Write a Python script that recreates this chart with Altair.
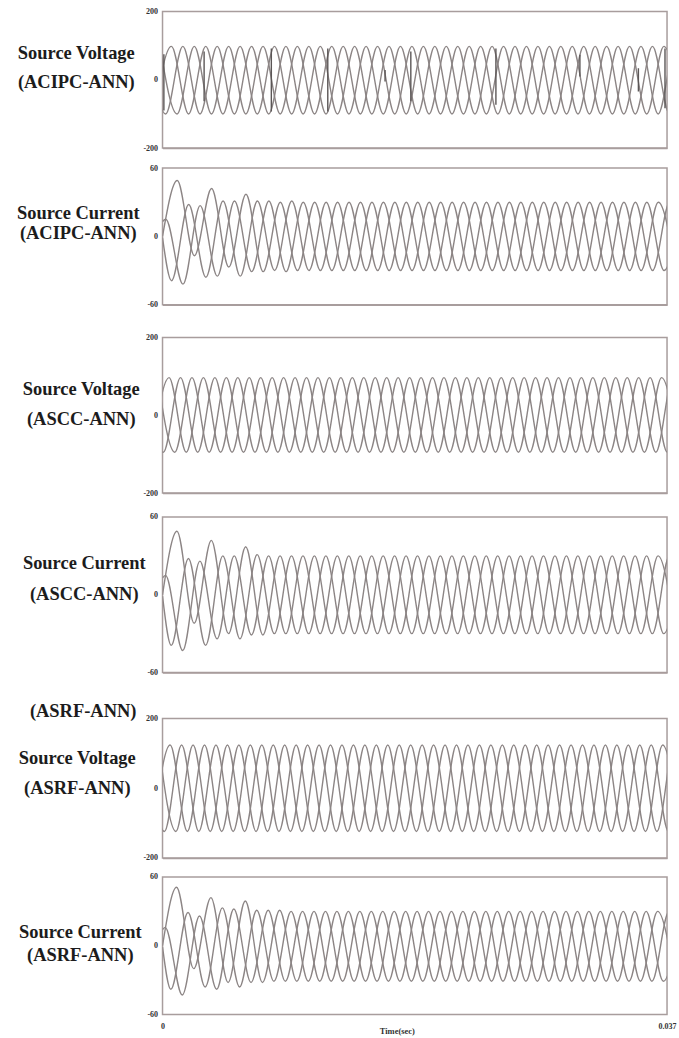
import altair as alt
import pandas as pd

# ---------------- texts ----------------
LABELS = [
    ["Source Voltage", "(ACIPC-ANN)"],
    ["Source Current", "(ACIPC-ANN)"],
    ["Source Voltage", "(ASCC-ANN)"],
    ["Source Current", "(ASCC-ANN)"],
    ["Source Voltage", "(ASRF-ANN)"],
    ["Source Current", "(ASRF-ANN)"],
]
EXTRA_LABEL = "(ASRF-ANN)"
Y_LIMITS = [200, 60, 200, 60, 200, 60]
X_TICKS = [0, 0.037]
X_TITLE = "Time(sec)"
T_END = 0.037

# ---------------- waveform data (extrema) ----------------
PERIOD = 0.00252          # one cycle of each phase
STEP = PERIOD / 3         # spacing of successive phase peaks

# Source voltage, ACIPC-ANN (peaks k=-2.., troughs m=-2..)
V1_T0 = 0.00065
V1_PEAKS = [98, 98, 98, 98, 98, 98, 98, 98, 98, 98, 98, 98,
            98, 98, 98, 98, 98, 98, 98, 98, 98, 98, 98, 98,
            98, 98, 98, 98, 98, 98, 98, 98, 98, 98, 98, 98,
            98, 98, 98, 98, 98, 98, 98, 98, 98, 98, 98, 98]
V1_TROUGHS = [-100, -100, -100, -100, -100, -100, -100, -100, -100, -100, -100, -100,
              -100, -100, -100, -100, -100, -100, -100, -100, -100, -100, -100, -100,
              -100, -100, -100, -100, -100, -100, -100, -100, -100, -100, -100, -100,
              -100, -100, -100, -100, -100, -100, -100, -100, -100, -100, -100, -100]
# dark vertical switching spikes in the ACIPC voltage trace
V1_SPIKE_T = [0.0001, 0.00305, 0.00798, 0.01212, 0.01632, 0.01821, 0.02445, 0.03061, 0.0349, 0.03685]
V1_SPIKE_LO = [-90, -63, -93, -93, -5, -63, -73, 10, -34, -83]
V1_SPIKE_HI = [75, 83, 92, 92, 29, 83, 92, 73, 34, 92]

# Source current, ACIPC-ANN (peaks k=0.., troughs m=0.., start values at t=0)
I2_T0 = 0.00024
I2_START = [13, 0, -1]
I2_PEAKS = [15, 49, 28, 27, 42, 31, 31, 37, 31, 31, 30, 31,
            30, 30, 30, 30, 30, 30, 30, 30, 30, 30, 30, 30,
            30, 30, 30, 30, 30, 30, 30, 30, 30, 30, 30, 30,
            30, 30, 30, 30, 30, 30, 30, 30, 30, 30]
I2_TROUGHS = [-39, -42, -17, -36, -35, -27, -35, -31, -31, -30, -31, -30,
              -30, -30, -30, -30, -30, -30, -30, -30, -30, -30, -30, -30,
              -30, -30, -30, -30, -30, -30, -30, -30, -30, -30, -30, -30,
              -30, -30, -30, -30, -30, -30, -30, -30, -30, -30]

# Source voltage, ASCC-ANN
V3_T0 = 0.00048
V3_PEAKS = [97, 97, 97, 97, 97, 97, 97, 97, 97, 97, 97, 97,
            97, 97, 97, 97, 97, 97, 97, 97, 97, 97, 97, 97,
            97, 97, 97, 97, 97, 97, 97, 97, 97, 97, 97, 97,
            97, 97, 97, 97, 97, 97, 97, 97, 97, 97, 97, 97]
V3_TROUGHS = [-95, -95, -95, -95, -95, -95, -95, -95, -95, -95, -95, -95,
              -95, -95, -95, -95, -95, -95, -95, -95, -95, -95, -95, -95,
              -95, -95, -95, -95, -95, -95, -95, -95, -95, -95, -95, -95,
              -95, -95, -95, -95, -95, -95, -95, -95, -95, -95, -95, -95]

# Source current, ASCC-ANN
I4_T0 = 0.00022
I4_START = [13, 0, -1]
I4_PEAKS = [15, 49, 28, 26, 42, 30, 30, 37, 31, 30, 30, 30,
            30, 30, 30, 30, 30, 30, 30, 30, 30, 30, 30, 30,
            30, 30, 30, 30, 30, 30, 30, 30, 30, 30, 30, 30,
            30, 30, 30, 30, 30, 30, 30, 30, 30, 30]
I4_TROUGHS = [-39, -43, -22, -39, -34, -30, -34, -31, -31, -30, -30, -30,
              -30, -30, -30, -30, -30, -30, -30, -30, -30, -30, -30, -30,
              -30, -30, -30, -30, -30, -30, -30, -30, -30, -30, -30, -30,
              -30, -30, -30, -30, -30, -30, -30, -30, -30, -30]

# Source voltage, ASRF-ANN
V5_T0 = 0.00056
V5_PEAKS = [124, 124, 124, 124, 124, 124, 124, 124, 124, 124, 124, 124,
            124, 124, 124, 124, 124, 124, 124, 124, 124, 124, 124, 124,
            124, 124, 124, 124, 124, 124, 124, 124, 124, 124, 124, 124,
            124, 124, 124, 124, 124, 124, 124, 124, 124, 124, 124, 124]
V5_TROUGHS = [-124, -124, -124, -124, -124, -124, -124, -124, -124, -124, -124, -124,
              -124, -124, -124, -124, -124, -124, -124, -124, -124, -124, -124, -124,
              -124, -124, -124, -124, -124, -124, -124, -124, -124, -124, -124, -124,
              -124, -124, -124, -124, -124, -124, -124, -124, -124, -124, -124, -124]

# Source current, ASRF-ANN
I6_T0 = 0.00019
I6_START = [14, 0, -1]
I6_PEAKS = [16, 51, 29, 26, 42, 33, 32, 39, 31, 31, 31, 30,
            30, 30, 30, 30, 30, 30, 30, 30, 30, 30, 30, 30,
            30, 30, 30, 30, 30, 30, 30, 30, 30, 30, 30, 30,
            30, 30, 30, 30, 30, 30, 30, 30, 30, 30]
I6_TROUGHS = [-38, -43, -20, -36, -38, -32, -36, -32, -32, -31, -31, -31,
              -31, -31, -31, -31, -31, -31, -31, -31, -31, -31, -31, -31,
              -31, -31, -31, -31, -31, -31, -31, -31, -31, -31, -31, -31,
              -31, -31, -31, -31, -31, -31, -31, -31, -31, -31]

# ---------------- style ----------------
SERIF = "Liberation Serif"
LINE = "#8c8585"
BORDER = "#a89d9d"
SPIKE = "#5b5656"
TEXT = "#1c1c1c"
PLOT_W = 506
LABEL_SIZE = 18.5


def wave_frame(t0, k0, peaks, m0, troughs, starts=None):
    rows = []
    for i, v in enumerate(peaks):
        k = k0 + i
        rows.append({"t": t0 + k * STEP, "v": v, "phase": k % 3})
    for i, v in enumerate(troughs):
        m = m0 + i
        rows.append({"t": t0 + (m + 0.5) * STEP, "v": v, "phase": (m - 1) % 3})
    if starts:
        for p, v in enumerate(starts):
            rows.append({"t": 0.0, "v": v, "phase": p})
    return pd.DataFrame(rows).sort_values("t")


def panel(df, idx, height, title_x, title_y, line_h, gap, last=False, spikes=None, title=None):
    ylim = Y_LIMITS[idx]
    if last:
        x_axis = alt.Axis(values=X_TICKS, format=".3~f", title=X_TITLE, grid=False,
                          ticks=False, domain=False, labelFlush=False, labelPadding=8,
                          labelFont=SERIF, labelFontSize=8, labelFontWeight="bold",
                          labelColor="#333333", titleFont=SERIF, titleFontSize=8.5,
                          titleFontWeight="bold", titleColor="#333333",
                          titleX=235, titleY=16, titleBaseline="middle", titleAlign="center")
    else:
        x_axis = alt.Axis(title=None, labels=False, ticks=False, grid=False, domain=True,
                          domainColor=BORDER, domainWidth=1.5,
                          minExtent=gap, maxExtent=gap)
    y_axis = alt.Axis(values=[-ylim, 0, ylim], labelExpr="'' + datum.value", grid=False,
                      ticks=False, domain=False, labelPadding=5, labelFont=SERIF,
                      labelFontSize=8, labelFontWeight="bold", labelColor="#333333",
                      title=LABELS[idx], titleAngle=0, titleAlign="center",
                      titleBaseline="top", titleX=title_x, titleY=title_y,
                      titleLineHeight=line_h, titleFont=SERIF, titleFontSize=LABEL_SIZE,
                      titleFontWeight="bold", titleColor=TEXT)
    xs = alt.Scale(domain=[0, T_END], nice=False, zero=False)
    ys = alt.Scale(domain=[-ylim, ylim], nice=False)
    lines = alt.Chart(df).mark_line(interpolate="monotone", clip=True, color=LINE,
                                    strokeWidth=1.4).encode(
        x=alt.X("t:Q", scale=xs, axis=x_axis),
        y=alt.Y("v:Q", scale=ys, axis=y_axis),
        detail="phase:N",
    )
    chart = lines
    if spikes is not None:
        rules = alt.Chart(spikes).mark_rule(color=SPIKE, strokeWidth=1.4, clip=True).encode(
            x=alt.X("t:Q", scale=xs), y=alt.Y("lo:Q", scale=ys), y2="hi:Q")
        chart = alt.layer(lines, rules)
    props = dict(width=PLOT_W, height=height)
    if title is not None:
        props["title"] = title
    return chart.properties(**props)


df1 = wave_frame(V1_T0, -2, V1_PEAKS, -2, V1_TROUGHS)
df2 = wave_frame(I2_T0, 0, I2_PEAKS, 0, I2_TROUGHS, I2_START)
df3 = wave_frame(V3_T0, -2, V3_PEAKS, -2, V3_TROUGHS)
df4 = wave_frame(I4_T0, 0, I4_PEAKS, 0, I4_TROUGHS, I4_START)
df5 = wave_frame(V5_T0, -2, V5_PEAKS, -2, V5_TROUGHS)
df6 = wave_frame(I6_T0, 0, I6_PEAKS, 0, I6_TROUGHS, I6_START)
spk1 = pd.DataFrame({"t": V1_SPIKE_T, "lo": V1_SPIKE_LO, "hi": V1_SPIKE_HI})

extra_title = alt.TitleParams(EXTRA_LABEL, anchor="start", orient="top", frame="group",
                              dx=-133, offset=-15, baseline="middle", font=SERIF,
                              fontSize=LABEL_SIZE, fontWeight="bold", color=TEXT)

p1 = panel(df1, 0, 137, -87, 32, 29, 14, spikes=spk1)
p2 = panel(df2, 1, 137, -85, 36, 20, 27)
p3 = panel(df3, 2, 156, -82, 42, 30, 18)
p4 = panel(df4, 3, 156, -79, 37, 31, 27)
p5 = panel(df5, 4, 140, -86, 30, 30, 13, title=extra_title)
p6 = panel(df6, 5, 138, -83, 46, 23, 0, last=True)

chart = alt.vconcat(p1, p2, p3, p4, p5, p6, spacing=0).configure_view(
    stroke=BORDER, strokeWidth=1.5
).properties(
    padding={"left": 15, "top": 5, "right": 2, "bottom": 0},
    background="white",
)

chart.save("out.html", embed_options={"renderer": "svg", "actions": False})
